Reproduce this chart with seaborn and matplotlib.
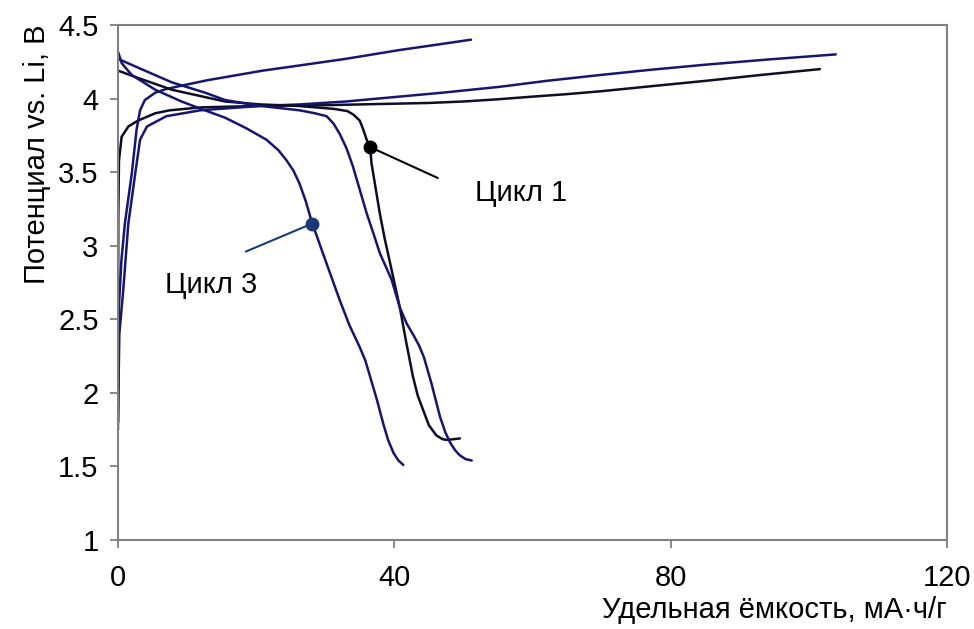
import numpy as np
import pandas as pd
import matplotlib
matplotlib.use("Agg")
import matplotlib.pyplot as plt
import seaborn as sns

# charge / discharge curves (capacity mAh/g, potential V)
charge1_x = [0, 0.02, 0.05, 0.15, 0.53, 1.5, 2.9, 5.4, 7.5, 12, 20.6, 30, 40, 45, 50, 55, 60, 65, 70, 77, 85, 93, 101.6]
charge1_y = [1.75, 2.6, 3.2, 3.58, 3.74, 3.81, 3.85, 3.90, 3.92, 3.94, 3.95, 3.955, 3.965, 3.97, 3.98, 3.995, 4.013, 4.03, 4.05, 4.083, 4.12, 4.16, 4.20]

charge2_x = [0, 0.2, 0.77, 1.5, 2.5, 3.2, 4.2, 5.4, 7.0, 11.9, 20.6, 26.3, 33, 40, 47, 55.3, 62, 69.8, 77, 85, 94, 103.9]
charge2_y = [1.8, 2.4, 2.70, 3.15, 3.49, 3.72, 3.81, 3.84, 3.88, 3.92, 3.95, 3.96, 3.98, 4.01, 4.04, 4.08, 4.12, 4.16, 4.195, 4.23, 4.265, 4.30]

charge3_x = [0, 0.05, 0.15, 0.5, 1.0, 2.0, 2.7, 3.2, 3.9, 5.4, 7.0, 9.45, 13, 16.7, 21, 26.3, 33, 40.8, 46, 51.1]
charge3_y = [1.8, 2.3, 2.60, 2.9, 3.15, 3.49, 3.79, 3.92, 3.99, 4.04, 4.065, 4.09, 4.125, 4.155, 4.19, 4.225, 4.27, 4.33, 4.365, 4.40]

dis1_x = [0, 2.9, 7.8, 12.6, 15.5, 20.6, 26, 31.2, 33.2, 34.1, 35.0, 35.5, 36.0, 36.5, 36.7, 37.3, 37.9, 38.6, 39.4, 40.8, 41.7, 42.7, 43.4, 44.2, 45.0, 46.1, 47.0, 47.6, 49.5]
dis1_y = [4.19, 4.14, 4.06, 4.01, 3.98, 3.96, 3.95, 3.93, 3.915, 3.89, 3.85, 3.79, 3.72, 3.67, 3.56, 3.39, 3.22, 3.05, 2.88, 2.58, 2.35, 2.11, 1.98, 1.88, 1.78, 1.71, 1.685, 1.68, 1.69]

dis2_x = [0, 2.9, 7.8, 12.6, 15.5, 20.6, 26.3, 28.5, 30.2, 31.2, 32.1, 33.1, 34.0, 35.0, 36.0, 37.0, 37.9, 39.6, 40.8, 41.8, 42.8, 43.6, 44.3, 45.4, 46.6, 47.4, 48.1, 48.8, 49.5, 50.3, 51.2]
dis2_y = [4.27, 4.21, 4.11, 4.04, 3.99, 3.95, 3.92, 3.90, 3.88, 3.83, 3.76, 3.66, 3.54, 3.38, 3.22, 3.08, 2.95, 2.77, 2.58, 2.47, 2.39, 2.32, 2.24, 2.06, 1.84, 1.73, 1.66, 1.61, 1.575, 1.55, 1.54]

dis3_x = [0, 0.55, 2.0, 5.4, 9.2, 12, 15.5, 18.5, 21.5, 23.2, 24.4, 25.4, 26.3, 27.2, 28.0, 29.5, 30.8, 32.1, 33.5, 35.0, 35.8, 36.5, 37.5, 38.4, 39.1, 39.9, 40.6, 41.3]
dis3_y = [4.32, 4.24, 4.16, 4.06, 3.98, 3.93, 3.87, 3.80, 3.72, 3.65, 3.58, 3.51, 3.42, 3.30, 3.17, 2.97, 2.80, 2.63, 2.46, 2.31, 2.22, 2.11, 1.95, 1.79, 1.68, 1.59, 1.54, 1.51]

curves = {
    "charge1": (charge1_x, charge1_y),
    "charge2": (charge2_x, charge2_y),
    "charge3": (charge3_x, charge3_y),
    "dis1": (dis1_x, dis1_y),
    "dis2": (dis2_x, dis2_y),
    "dis3": (dis3_x, dis3_y),
}

black = "#0d0d26"
navy = "#16166e"
palette = {"charge1": black, "dis1": black,
           "charge2": navy, "dis2": navy,
           "charge3": navy, "dis3": navy}

# markers pointing at cycle labels, with the far end of each leader line
mark1 = (36.5, 3.67)
lead1 = (46.3, 3.46)
mark3 = (28.1, 3.15)
lead3 = (18.5, 2.96)

rows = []
for name, (xs, ys) in curves.items():
    for x, y in zip(xs, ys):
        rows.append({"cap": x, "pot": y, "curve": name})
df = pd.DataFrame(rows)

sns.set_style("white")
plt.rcParams["font.family"] = ["Liberation Sans", "DejaVu Sans"]
plt.rcParams["text.color"] = "black"
fs = 21

fig = plt.figure(figsize=(9.74, 6.29), dpi=100)
ax = fig.add_axes([0.1211, 0.1415, 0.8512, 0.8188])

sns.lineplot(data=df, x="cap", y="pot", hue="curve", palette=palette,
             units="curve", estimator=None, sort=False, legend=False,
             linewidth=1.8, ax=ax)
for line in ax.lines:
    line.set_solid_joinstyle("round")
    line.set_solid_capstyle("round")

ax.plot([mark1[0], lead1[0]], [mark1[1], lead1[1]], color="black", lw=1.5)
ax.plot([mark3[0], lead3[0]], [mark3[1], lead3[1]], color="#1a3a75", lw=1.5)
ax.plot(*mark1, "o", color="black", markersize=9, zorder=5)
ax.plot(*mark3, "o", color="#1a3a75", markersize=9, zorder=5)
ax.text(51.7, 3.36, "Цикл 1", fontsize=fs, va="center", ha="left")
ax.text(6.8, 2.73, "Цикл 3", fontsize=fs, va="center", ha="left")

ax.set_xlim(0, 120)
ax.set_ylim(1, 4.5)
ax.set_xticks([0, 40, 80, 120])
ax.set_yticks([1, 1.5, 2, 2.5, 3, 3.5, 4, 4.5])
ax.set_yticklabels(["1", "1.5", "2", "2.5", "3", "3.5", "4", "4.5"])
ax.tick_params(axis="both", labelsize=fs, direction="out", length=6,
               width=1.3, color="#808080", labelcolor="black",
               bottom=True, left=True, pad=8)
ax.tick_params(axis="x", pad=11)
for sp in ax.spines.values():
    sp.set_color("#808080")
    sp.set_linewidth(1.5)

ax.set_xlabel("Удельная ёмкость, мА·ч/г", fontsize=fs, loc="right",
              labelpad=3, color="black")
ax.set_ylabel("Потенциал vs. Li, В", fontsize=fs, loc="top",
              labelpad=5, color="black")

fig.savefig("out.png", dpi=100)
